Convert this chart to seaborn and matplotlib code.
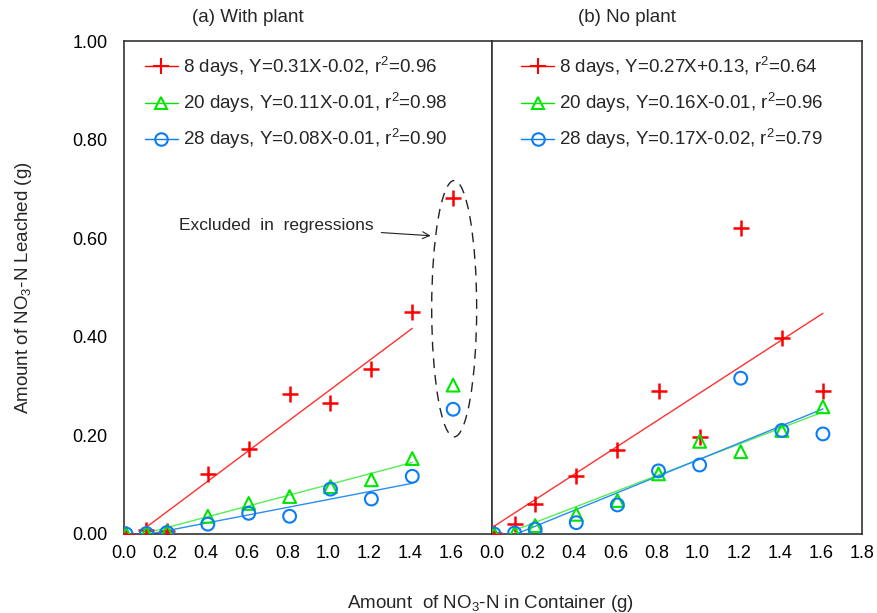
import numpy as np
import pandas as pd
import seaborn as sns
import matplotlib
matplotlib.use("Agg")
import matplotlib.pyplot as plt
from matplotlib.lines import Line2D
from matplotlib.patches import Ellipse

# ---------------- data ----------------
x_vals = [0.01, 0.11, 0.21, 0.41, 0.61, 0.81, 1.01, 1.21, 1.41, 1.61]
series_names = ["8 days", "20 days", "28 days"]

a_8 = [0.0, 0.008, 0.006, 0.122, 0.172, 0.284, 0.265, 0.335, 0.450, 0.682]
a_20 = [0.0, 0.002, 0.005, 0.036, 0.062, 0.076, 0.096, 0.110, 0.153, 0.302]
a_28 = [0.0, 0.001, 0.003, 0.020, 0.042, 0.036, 0.091, 0.071, 0.117, 0.253]

b_8 = [0.003, 0.020, 0.060, 0.118, 0.170, 0.290, 0.197, 0.620, 0.397, 0.290]
b_20 = [0.0, 0.002, 0.017, 0.040, 0.068, 0.122, 0.188, 0.167, 0.210, 0.258]
b_28 = [0.0, 0.002, 0.010, 0.023, 0.059, 0.128, 0.140, 0.316, 0.210, 0.203]

# drawn regression lines (slope, intercept, x range)
a_slopes = [0.31, 0.11, 0.08]
a_inter = [-0.02, -0.01, -0.01]
a_xrange = [(0.11, 1.41), (0.11, 1.41), (0.11, 1.41)]
b_slopes = [0.27, 0.16, 0.17]
b_inter = [0.013, -0.01, -0.02]
b_xrange = [(0.01, 1.61), (0.11, 1.61), (0.11, 1.61)]

a_labels = ["8 days, Y=0.31X-0.02, r$^2$=0.96",
            "20 days, Y=0.11X-0.01, r$^2$=0.98",
            "28 days, Y=0.08X-0.01, r$^2$=0.90"]
b_labels = ["8 days, Y=0.27X+0.13, r$^2$=0.64",
            "20 days, Y=0.16X-0.01, r$^2$=0.96",
            "28 days, Y=0.17X-0.02, r$^2$=0.79"]

x_ticks = [0.0, 0.2, 0.4, 0.6, 0.8, 1.0, 1.2, 1.4, 1.6, 1.8]
y_ticks = [0.0, 0.2, 0.4, 0.6, 0.8, 1.0]

# ---------------- style ----------------
sns.set_theme(style="white")
plt.rcParams["font.family"] = ["Liberation Sans", "DejaVu Sans"]
plt.rcParams["mathtext.fontset"] = "custom"
plt.rcParams["mathtext.rm"] = "Liberation Sans"
plt.rcParams["mathtext.it"] = "Liberation Sans:italic"
plt.rcParams["mathtext.bf"] = "Liberation Sans:bold"

colors = ["#FF0000", "#00E600", "#0A7CF5"]
line_colors = ["#FF3030", "#55EE55", "#2A8CF5"]
markers = ["+", "^", "o"]
FS = 13.5
TICK_FS = 13

fig = plt.figure(figsize=(8.78, 6.13), dpi=100)
ax_a = fig.add_axes([124 / 878, 79 / 613, 368 / 878, 493 / 613])
ax_b = fig.add_axes([492 / 878, 79 / 613, 370 / 878, 493 / 613])


def draw_panel(ax, ys, slopes, inters, xranges, labels, leg_x):
    for i in range(3):
        df = pd.DataFrame({"x": x_vals, "y": ys[i]})
        if markers[i] == "+":
            sns.scatterplot(data=df, x="x", y="y", marker="+", s=120,
                            color=colors[i], linewidth=1.8, ax=ax, zorder=3)
        else:
            ax.scatter(df["x"], df["y"], marker=markers[i], s=85,
                       facecolors="none", edgecolors=colors[i],
                       linewidths=1.5, zorder=3)
        x0, x1 = xranges[i]
        xl = np.array([x0, x1])
        ld = pd.DataFrame({"x": xl, "y": slopes[i] * xl + inters[i]})
        sns.lineplot(data=ld, x="x", y="y", color=line_colors[i], lw=1.0,
                     ax=ax, zorder=2)
    handles = [Line2D([], [], color=colors[i], marker=markers[i],
                      markerfacecolor="none", markeredgewidth=1.5,
                      markersize=9 if markers[i] != "+" else 11, lw=1.0)
               for i in range(3)]
    ax.legend(handles, labels, loc="upper left",
              bbox_to_anchor=(leg_x, 0.995), frameon=False,
              fontsize=FS, handlelength=1.76, handletextpad=0.27,
              labelspacing=0.65, borderaxespad=0.2)
    ax.set_xlim(0, 1.8)
    ax.set_ylim(0, 1.0)
    ax.set_xlabel("")
    ax.set_ylabel("")
    ax.set_xticks(x_ticks)
    ax.set_yticks(y_ticks)
    for sp in ax.spines.values():
        sp.set_color("#333333")
        sp.set_linewidth(1.2)
    ax.tick_params(axis="both", direction="in", length=6, width=1,
                   colors="#333333", labelcolor="black", labelsize=TICK_FS)
    ax.tick_params(axis="x", pad=8)
    ax.tick_params(axis="y", pad=12)


draw_panel(ax_a, [a_8, a_20, a_28], a_slopes, a_inter, a_xrange, a_labels, 0.026)
draw_panel(ax_b, [b_8, b_20, b_28], b_slopes, b_inter, b_xrange, b_labels, 0.049)

ax_a.set_xticklabels([f"{v:.1f}" for v in x_ticks[:-1]] + [""])
ax_a.set_yticklabels([f"{v:.2f}" for v in y_ticks])
ax_b.set_xticklabels([f"{v:.1f}" for v in x_ticks])
ax_b.tick_params(axis="y", left=False, labelleft=False)

ax_a.text(0.337, 1.047, "(a) With plant", transform=ax_a.transAxes,
          ha="center", va="center", fontsize=FS)
ax_b.text(0.365, 1.047, "(b) No plant", transform=ax_b.transAxes,
          ha="center", va="center", fontsize=FS)

# excluded points annotation
ell = Ellipse((1.615, 0.457), width=0.22, height=0.52, fill=False,
              edgecolor="#222222", lw=1.0, linestyle=(0, (7, 5)), zorder=1)
ax_a.add_patch(ell)
ax_a.annotate("Excluded  in  regressions", xy=(1.5, 0.605),
              xytext=(0.27, 0.625), fontsize=12.5, va="center", ha="left",
              arrowprops=dict(arrowstyle="->", color="#222222", lw=0.8,
                              shrinkA=3, shrinkB=0))

fig.text(0.027, (79 + 493 / 2) / 613, "Amount of NO$_3$-N Leached (g)",
         rotation=90, ha="center", va="center", fontsize=FS)
fig.text(491 / 878, 1 - 603 / 613, "Amount  of NO$_3$-N in Container (g)",
         ha="center", va="center", fontsize=FS)

fig.savefig("out.png", dpi=100)
